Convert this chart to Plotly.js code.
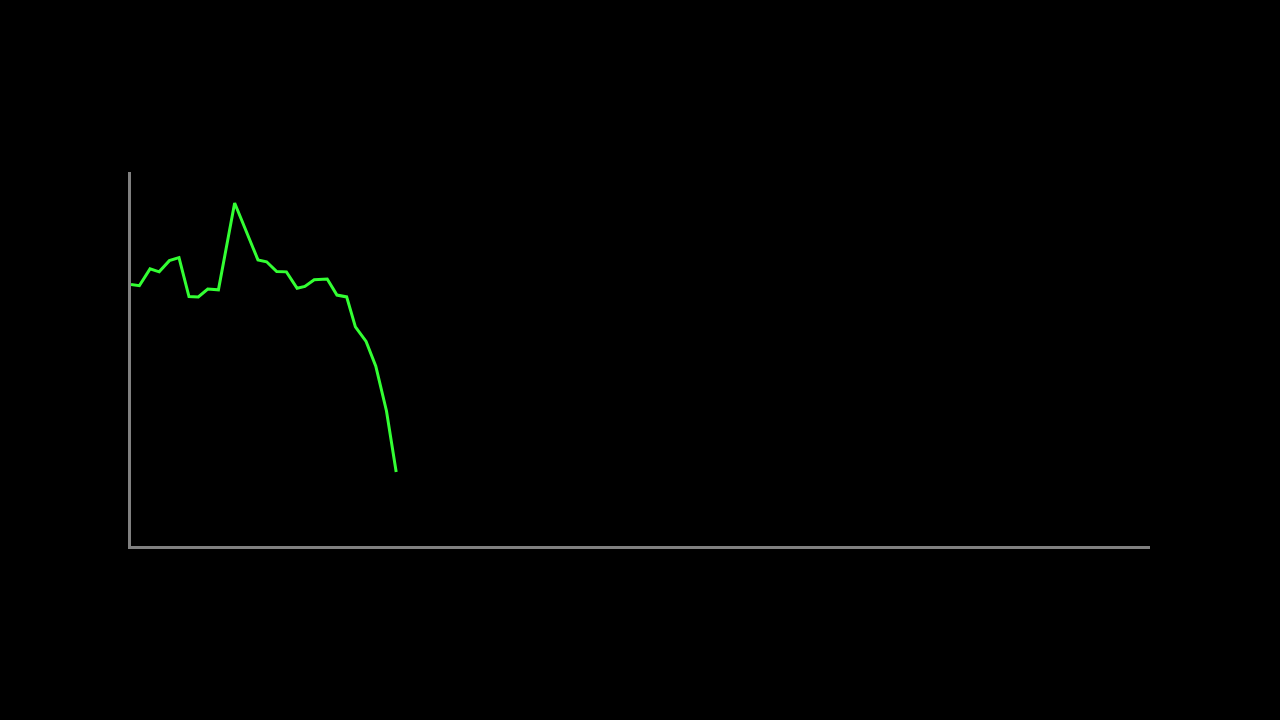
<!DOCTYPE html>
<html>
<head>
<meta charset="utf-8">
<script src="https://cdn.plot.ly/plotly-3.0.1.min.js"></script>
<style>
  html, body { margin: 0; padding: 0; background: #000; }
  #plot { width: 1280px; height: 720px; }
</style>
</head>
<body>
<div id="plot"></div>
<script>
// positions along the x axis (axis runs 0..105)
var xSteps = [0.1, 0.96, 2.06, 3.0, 4.05, 5.04, 6.07, 7.03, 8.0, 9.1,
              10.77, 13.17, 14.06, 15.1, 16.1, 17.2, 18.0, 18.96, 20.3,
              21.3, 22.3, 23.2, 24.3, 25.3, 26.4, 27.4];
// series values (axis runs 0..100)
var yValues = [69.9, 69.6, 74.1, 73.3, 76.3, 77.1, 66.7, 66.6, 68.7, 68.5,
               91.7, 76.5, 76.0, 73.4, 73.3, 68.9, 69.4, 71.2, 71.4,
               67.1, 66.6, 58.6, 54.7, 48.1, 36.1, 19.8];

var trace = {
  x: xSteps,
  y: yValues,
  type: 'scatter',
  mode: 'lines',
  line: {color: 'rgb(51,255,51)', width: 3},
  hoverinfo: 'none'
};

var layout = {
  width: 1280,
  height: 720,
  paper_bgcolor: '#000',
  plot_bgcolor: '#000',
  showlegend: false,
  margin: {l: 131, r: 130, t: 172, b: 174},
  xaxis: {
    range: [0.1, 105],
    showline: true,
    linecolor: '#808080',
    linewidth: 3,
    showgrid: false,
    zeroline: false,
    showticklabels: false,
    ticks: ''
  },
  yaxis: {
    range: [0, 100],
    showline: true,
    linecolor: '#808080',
    linewidth: 3,
    showgrid: false,
    zeroline: false,
    showticklabels: false,
    ticks: ''
  }
};

Plotly.newPlot('plot', [trace], layout, {displayModeBar: false, staticPlot: true});
</script>
</body>
</html>
